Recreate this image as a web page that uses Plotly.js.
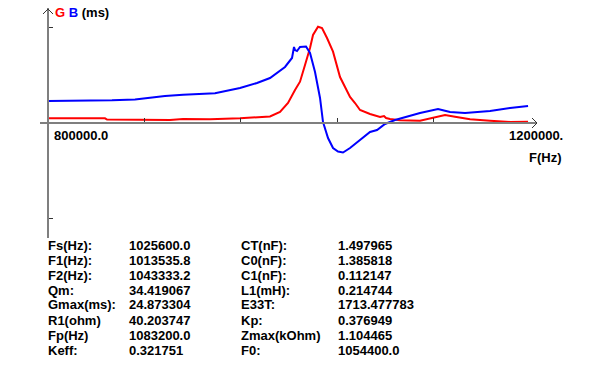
<!DOCTYPE html>
<html>
<head>
<meta charset="utf-8">
<script src="https://cdn.plot.ly/plotly-3.0.1.min.js"></script>
<style>html,body{margin:0;padding:0;background:#fff;}#chart{width:605px;height:366px;}</style>
</head>
<body>
<div id="chart"></div>
<script>
// Frequency (Hz) and conductance G (ms) for the red curve
var gFreq = [800000, 847300, 849000, 901250, 912040, 934450, 959340, 975940, 984240, 992540, 999180, 1004990, 1009140, 1013290, 1017440, 1019930, 1024080, 1027400, 1031550, 1036530, 1040680, 1042340, 1046490, 1050640, 1054790, 1058940, 1067240, 1075540, 1078860, 1080520, 1083840, 1092140, 1108740, 1118700, 1129490, 1137790, 1150240, 1166840, 1183440, 1198380];
var gVals = [1.24, 1.24, 0.92, 0.79, 1.05, 0.97, 1.24, 1.66, 1.71, 2.89, 5.26, 8.68, 10.87, 15.26, 19.74, 23.16, 25.34, 25.0, 22.37, 18.76, 13.5, 12.1, 9.47, 6.84, 5.26, 3.42, 2.37, 1.58, 1.84, 1.32, 1.05, 0.71, 0.61, 1.24, 2.1, 1.66, 0.97, 0.61, 0.26, 0.34];
// Frequency (Hz) and susceptance B (ms) for the blue curve
var bFreq = [800000, 851450, 853100, 872200, 884650, 897100, 912040, 938600, 959340, 973450, 984240, 990880, 996690, 1002500, 1003330, 1004160, 1004990, 1006650, 1009140, 1014120, 1017440, 1021590, 1025740, 1028230, 1032380, 1036530, 1040680, 1044830, 1050640, 1058940, 1067240, 1073050, 1079690, 1087990, 1100440, 1108740, 1123680, 1133640, 1146090, 1166840, 1183440, 1198380];
var bVals = [5.79, 5.79, 5.97, 6.18, 6.71, 7.1, 7.45, 7.82, 9.21, 10.53, 11.84, 13.42, 14.74, 17.11, 18.68, 20.0, 19.2, 18.95, 20.0, 20.13, 18.42, 13.42, 6.58, 0.26, -3.95, -6.58, -7.5, -7.76, -6.58, -4.47, -2.37, -1.84, -0.26, 0.79, 1.84, 2.63, 3.68, 2.89, 2.63, 3.16, 3.95, 4.47];

var xTickVals = [880000, 960000, 1040000, 1120000];
var yTickVals = [-25, 25];
var xStartLabel = '800000.0';
var xEndLabel = '1200000.';
var xTitle = 'F(Hz)';

var labels1 = ['Fs(Hz):', 'F1(Hz):', 'F2(Hz):', 'Qm:', 'Gmax(ms):', 'R1(ohm)', 'Fp(Hz)', 'Keff:'];
var values1 = ['1025600.0', '1013535.8', '1043333.2', '34.419067', '24.873304', '40.203747', '1083200.0', '0.321751'];
var labels2 = ['CT(nF):', 'C0(nF):', 'C1(nF):', 'L1(mH):', 'E33T:', 'Kp:', 'Zmax(kOhm)', 'F0:'];
var values2 = ['1.497965', '1.385818', '0.112147', '0.214744', '1713.477783', '0.376949', '1.104465', '1054400.0'];

var W = 605, H = 366;
var mL = 40, mR = 68, mT = 8, mB = 128;
var pw = W - mL - mR, ph = H - mT - mB;
var hzPerPx = 400000 / 482;
var xr = [800000 - 8 * hzPerPx, 1200000 + 7 * hzPerPx];
var yr = [-30.26, 30.26];
function px2paperX(px) { return (px - mL) / pw; }
function px2paperY(py) { return (H - mB - py) / ph; }

var FONT = 'Liberation Sans, Arial, sans-serif';
var font = {family: FONT, size: 13, color: '#000'};
var annotations = [];
function addText(txt, px, py) {
  annotations.push({text: '<b>' + txt + '</b>', xref: 'paper', yref: 'paper', x: px2paperX(px), y: px2paperY(py),
    xanchor: 'left', yanchor: 'middle', showarrow: false, font: font});
}
addText('<span style="color:#ff0000">G</span> <span style="color:#0000ff">B</span> (ms)', 53, 13);
addText(xStartLabel, 52, 135);
addText(xEndLabel, 507, 135);
addText(xTitle, 527, 157);
for (var i = 0; i < labels1.length; i++) {
  var yy = 245 + i * 15;
  addText(labels1[i], 46, yy);
  addText(values1[i], 127, yy);
  addText(labels2[i], 239, yy);
  addText(values2[i], 336, yy);
}

var axisColor = '#7f7f7f';
var traces = [
  {x: gFreq, y: gVals, mode: 'lines', line: {color: '#ff0000', width: 2}, hoverinfo: 'skip'},
  {x: bFreq, y: bVals, mode: 'lines', line: {color: '#0000ff', width: 2}, hoverinfo: 'skip'}
];
var layout = {
  width: W, height: H,
  margin: {l: mL, r: mR, t: mT, b: mB, pad: 0},
  paper_bgcolor: '#fff', plot_bgcolor: '#fff',
  showlegend: false,
  xaxis: {range: xr, anchor: 'free', position: 0.5, showline: true, linecolor: axisColor, linewidth: 2,
    showgrid: false, zeroline: false, ticks: 'inside', ticklen: 4, tickwidth: 1, tickcolor: '#333',
    tickvals: xTickVals, showticklabels: false, fixedrange: true},
  yaxis: {range: yr, anchor: 'free', position: 8 / pw, showline: true, linecolor: axisColor, linewidth: 2,
    showgrid: false, zeroline: false, ticks: 'inside', ticklen: 4, tickwidth: 1, tickcolor: '#333',
    tickvals: yTickVals, showticklabels: false, fixedrange: true},
  shapes: [
    {type: 'path', xref: 'x', yref: 'y', xsizemode: 'pixel', ysizemode: 'pixel', xanchor: 800000, yanchor: yr[1],
      path: 'M -5,-6 L 0,-1 L 5,-6', line: {color: '#333', width: 1}},
    {type: 'path', xref: 'x', yref: 'y', xsizemode: 'pixel', ysizemode: 'pixel', xanchor: xr[1], yanchor: 0,
      path: 'M -5,5 L 0,0 L -5,-5', line: {color: '#333', width: 1}}
  ],
  annotations: annotations
};
Plotly.newPlot('chart', traces, layout, {staticPlot: true, displayModeBar: false});
</script>
</body>
</html>
